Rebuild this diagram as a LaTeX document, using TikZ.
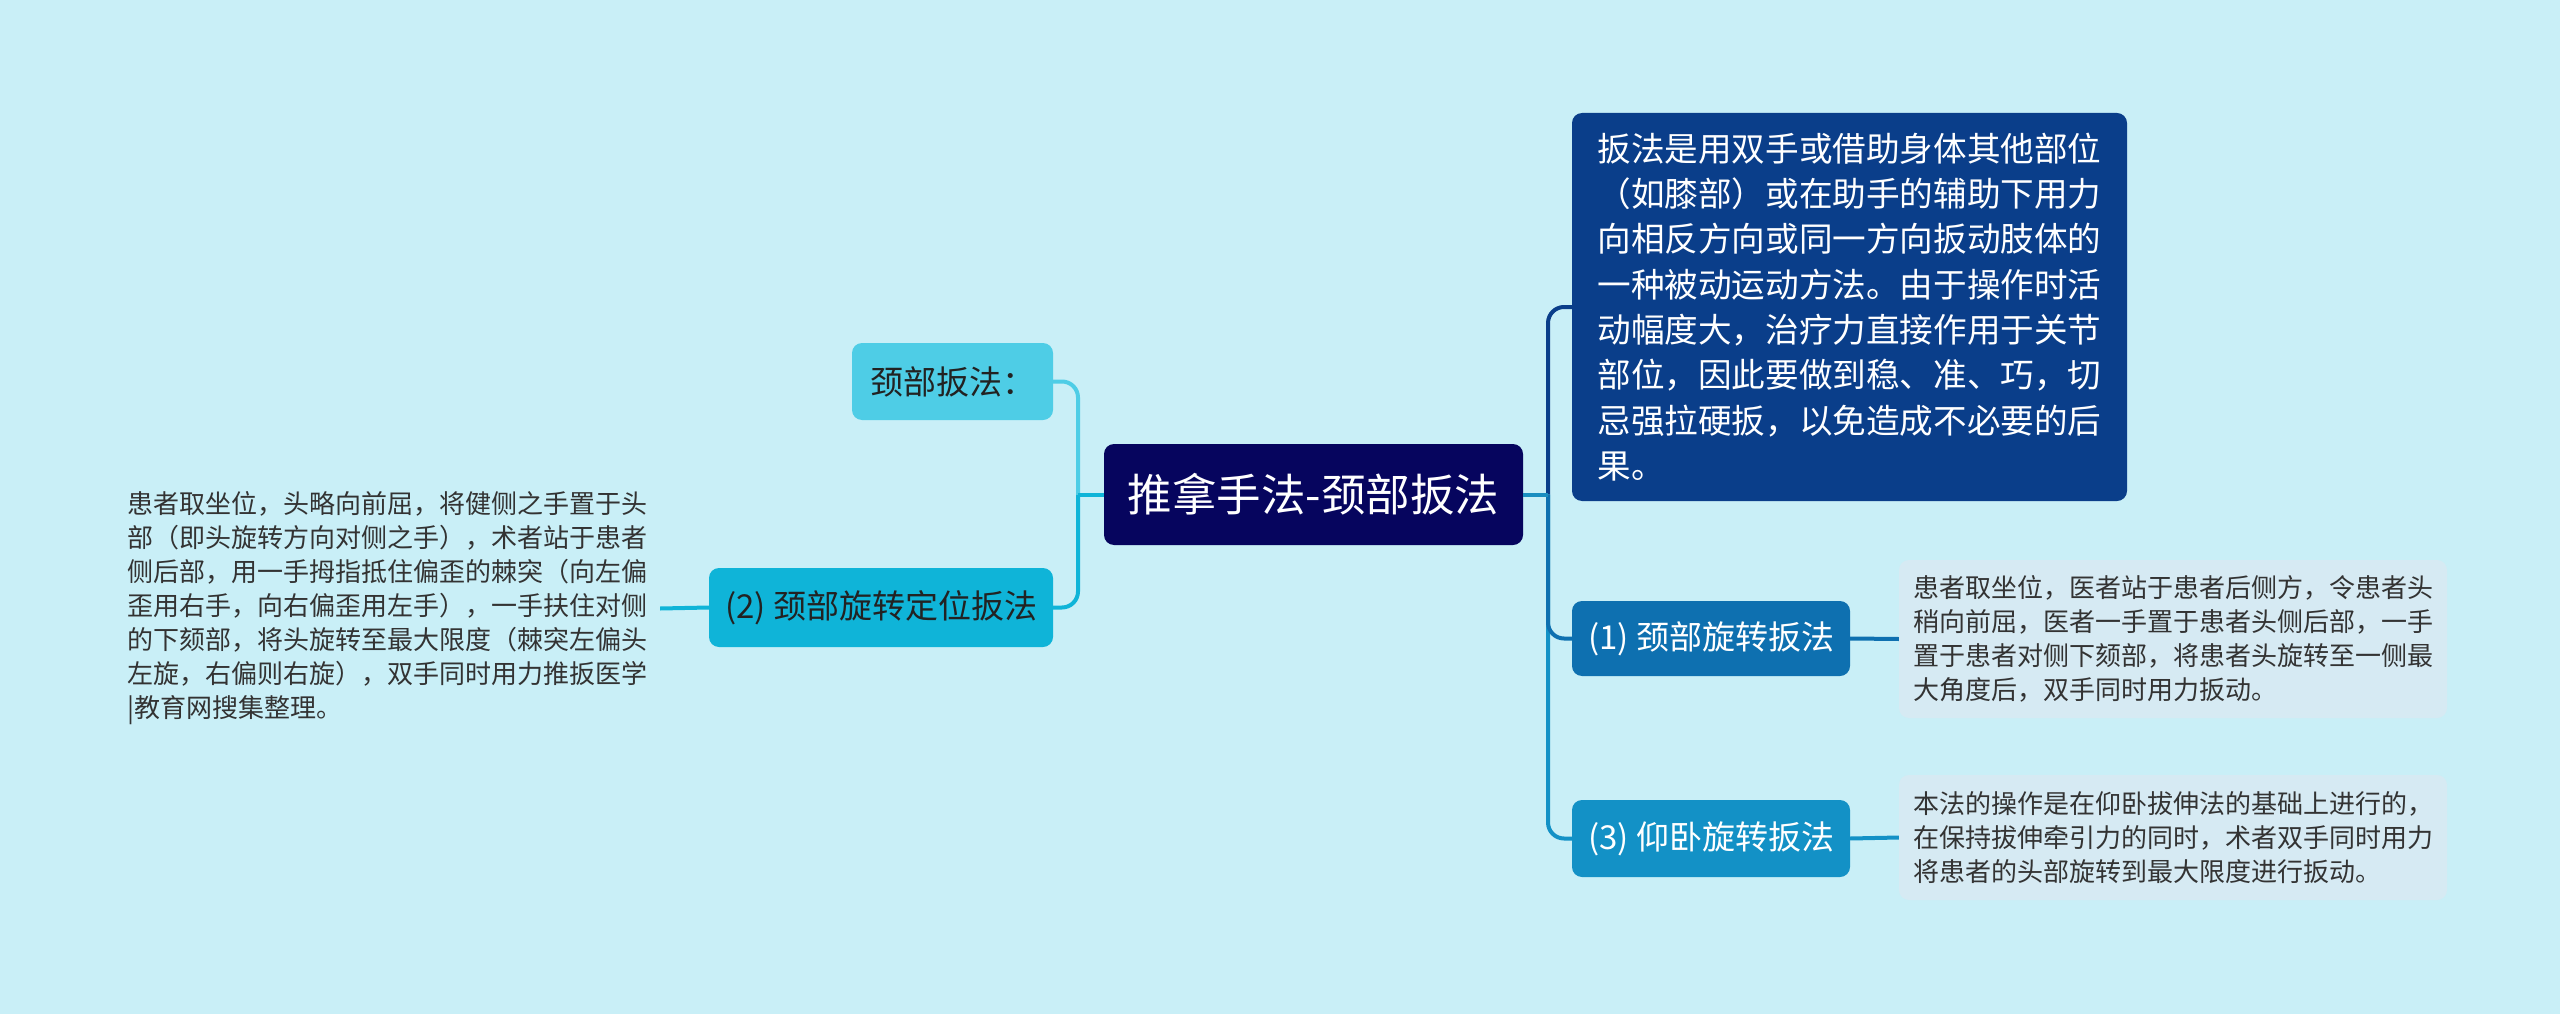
\documentclass[tikz,border=0pt]{standalone}
\usepackage{fontspec}
\newfontfamily\cjk{Noto Sans CJK SC}
\definecolor{bgc}{HTML}{C9EFF7}
\definecolor{rootc}{HTML}{06055E}
\definecolor{topc}{HTML}{0A3E8A}
\definecolor{onec}{HTML}{0E70B0}
\definecolor{threec}{HTML}{1391C6}
\definecolor{neckc}{HTML}{4ECDE6}
\definecolor{twoc}{HTML}{0FB4D8}
\definecolor{leafc}{HTML}{D6EAF3}
\definecolor{stubc}{HTML}{1A8EC0}
\definecolor{darktext}{HTML}{222222}
\definecolor{leaftext}{HTML}{333333}
\begin{document}
\begin{tikzpicture}[x=1pt,y=-1pt,
  box/.style={rounded corners=10pt, inner sep=0pt, align=left},
  conn/.style={line width=4pt, rounded corners=16pt},
  mainfont/.style={font=\cjk\fontsize{33}{39}\selectfont},
  leaffont/.style={font=\cjk\fontsize{26}{34}\selectfont, text=leaftext}
]
\fill[bgc] (0,0) rectangle (2560,1014);
\useasboundingbox (0,0) rectangle (2560,1014);

% nodes
\node[box, fill=rootc, text=white, minimum width=419pt, minimum height=101pt,
  font=\cjk\fontsize{44.5}{50}\selectfont] (root) at (1313.5,494.5) {推拿手法-颈部扳法};

\node[box, fill=topc, text=white, minimum width=555pt, minimum height=388pt,
  font=\cjk\fontsize{33.6}{45.3}\selectfont] (top) at (1849.5,307) {扳法是用双手或借助身体其他部位\\（如膝部）或在助手的辅助下用力\\向相反方向或同一方向扳动肢体的\\一种被动运动方法。由于操作时活\\动幅度大，治疗力直接作用于关节\\部位，因此要做到稳、准、巧，切\\忌强拉硬扳，以免造成不必要的后\\果。};

\node[box, fill=onec, text=white, minimum width=278pt, minimum height=75pt, mainfont] (one) at (1711,638.5) {(1) 颈部旋转扳法};
\node[box, fill=leafc, minimum width=548pt, minimum height=158pt, leaffont] (oneleaf) at (2173,639) {患者取坐位，医者站于患者后侧方，令患者头\\稍向前屈，医者一手置于患者头侧后部，一手\\置于患者对侧下颏部，将患者头旋转至一侧最\\大角度后，双手同时用力扳动。};

\node[box, fill=threec, text=white, minimum width=278pt, minimum height=77pt, mainfont] (three) at (1711,838.5) {(3) 仰卧旋转扳法};
\node[box, fill=leafc, minimum width=548pt, minimum height=125pt, leaffont] (threeleaf) at (2173,837.5) {本法的操作是在仰卧拔伸法的基础上进行的，\\在保持拔伸牵引力的同时，术者双手同时用力\\将患者的头部旋转到最大限度进行扳动。};

\node[box, fill=neckc, text=darktext, minimum width=201pt, minimum height=77pt, mainfont] (neck) at (952.5,381.5) {颈部扳法：};
\node[box, fill=twoc, text=darktext, minimum width=344pt, minimum height=79pt, mainfont] (two) at (881,607.5) {(2) 颈部旋转定位扳法};

\node[align=left, inner xsep=13pt, inner ysep=0pt, leaffont] (twoleaf) at (387,608.5) {患者取坐位，头略向前屈，将健侧之手置于头\\部（即头旋转方向对侧之手），术者站于患者\\侧后部，用一手拇指抵住偏歪的棘突（向左偏\\歪用右手，向右偏歪用左手），一手扶住对侧\\的下颏部，将头旋转至最大限度（棘突左偏头\\左旋，右偏则右旋），双手同时用力推扳医学\\|教育网搜集整理。};

% junctions
\coordinate (JR) at (1548,494.5);
\coordinate (JL) at (1078,494.5);

% right connectors
\draw[conn, topc] (JR) |- (top.west);
\draw[conn, threec] (JR) |- (three.west);
\draw[conn, onec] (JR) |- (one.west);
\draw[line width=4pt, stubc] (root.east) -- (JR);

% left connectors
\draw[conn, neckc] (JL) |- (neck.east);
\draw[conn, twoc] (JL) |- (two.east);
\draw[line width=4pt, twoc] (root.west) -- (JL);

% leaf connectors
\draw[line width=4pt, onec] (one.east) -- (oneleaf.west);
\draw[line width=4pt, threec] (three.east) -- (threeleaf.west);
\draw[line width=4pt, twoc] (two.west) -- (twoleaf.east);
\end{tikzpicture}
\end{document}
